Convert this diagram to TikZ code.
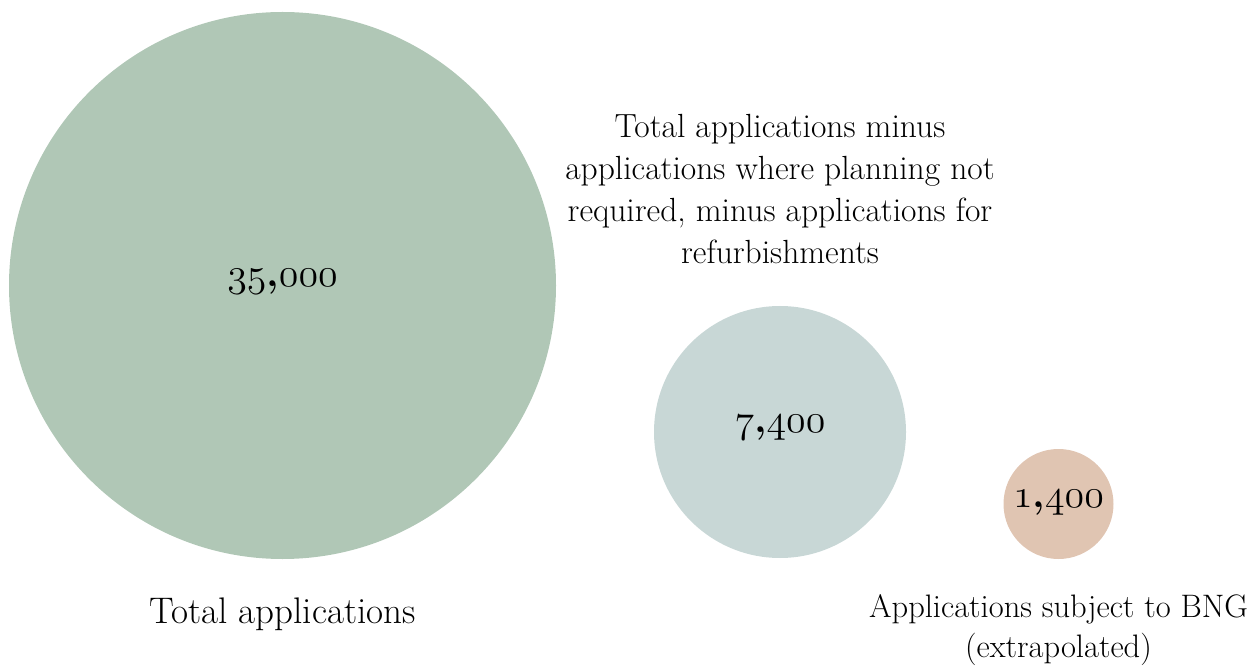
\documentclass[tikz,border=0pt]{standalone}
\usepackage{fix-cm}
\definecolor{greenfill}{HTML}{B0C7B6}
\definecolor{bluefill}{HTML}{C8D7D6}
\definecolor{sandfill}{HTML}{E0C5B2}
\newcommand{\osn}[1]{\legacyoldstylenums{#1}}
\tikzset{
  bubble/.style={circle, inner sep=0pt, draw=none},
  value/.style={font=\fontsize{40}{46}\selectfont\bfseries, inner sep=0pt, anchor=center},
  caption/.style={font=\fontsize{33.5}{42}\selectfont, align=center, inner sep=0pt}
}
\begin{document}
\begin{tikzpicture}[x=1pt, y=-1pt]
  \useasboundingbox (0,0) rectangle (1256,668);

  % bubbles sized by number of applications
  \node[bubble, fill=greenfill, minimum size=547pt] (total) at (282.5,285.5) {};
  \node[bubble, fill=bluefill, minimum size=252pt] (planning) at (780,432) {};
  \node[bubble, fill=sandfill, minimum size=110pt] (bng) at (1058.5,504) {};

  % values, set slightly above each bubble's centre
  \node[value] (totalval) at ([yshift=4pt]total.center) {\osn{35},\osn{000}};
  \node[value] (planningval) at ([yshift=4pt]planning.center) {\osn{7},\osn{400}};
  \node[value] (bngval) at ([yshift=1pt]bng.center) {\osn{1},\osn{400}};

  % captions
  \node[caption, anchor=base, font=\fontsize{37}{42}\selectfont] (totallab) at (282.5,623) {Total applications};
  \node[caption] (planninglab) at (780,189) {Total applications minus\\applications where planning not\\required, minus applications for\\refurbishments};
  \node[caption, font=\fontsize{32.5}{40}\selectfont] (bnglab) at (1058.5,630) {Applications subject to BNG\\(extrapolated)};
\end{tikzpicture}
\end{document}
